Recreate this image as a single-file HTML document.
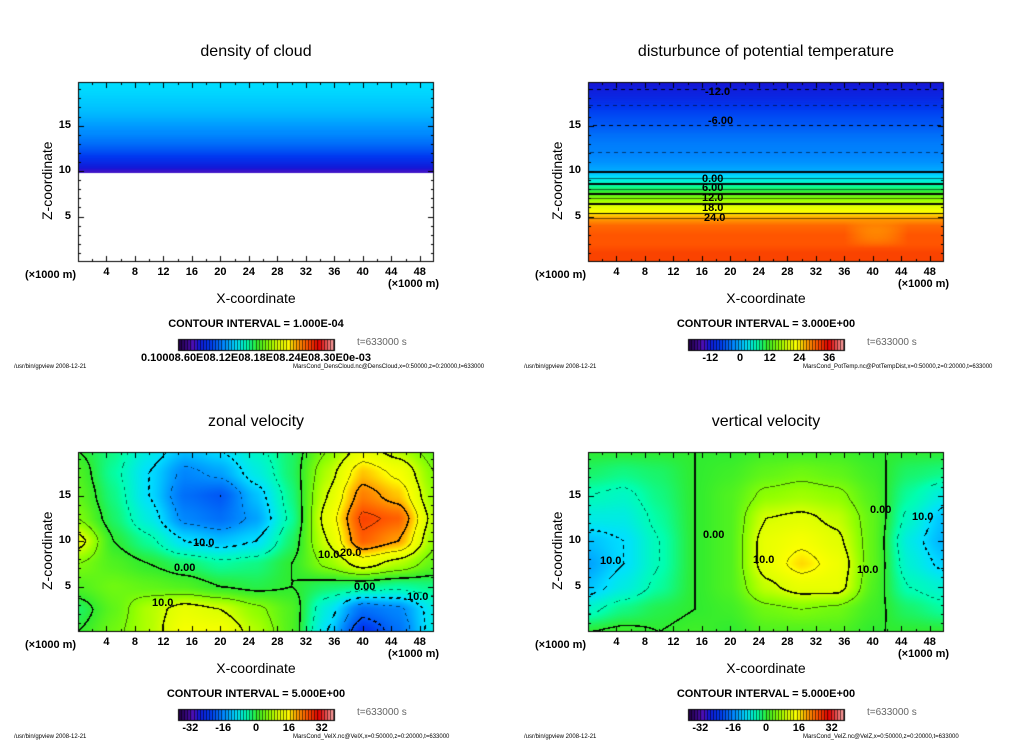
<!DOCTYPE html>
<html><head><meta charset="utf-8">
<style>
body{margin:0;background:#fff;width:1024px;height:740px;overflow:hidden;position:relative;font-family:"Liberation Sans",sans-serif}
canvas{position:absolute;left:0;top:0}
.t{position:absolute;white-space:nowrap;color:#000;line-height:1}
.title{font-size:16px;transform:translateX(-50%)}
.tick{font-size:11px;font-weight:bold;transform:translateX(-50%)}
.ytick{font-size:11px;font-weight:bold;text-align:right;width:24px}
.unit{font-size:11px;font-weight:bold}
.xl{font-size:14px;transform:translateX(-50%)}
.yl{font-size:14px;transform:rotate(-90deg);transform-origin:left top}
.ci{font-size:11px;font-weight:bold;transform:translateX(-50%)}
.tm{font-size:10px;color:#666}
.foot{font-size:6px}
.cl{font-size:11px;font-weight:bold}
</style></head><body>
<canvas id="cv" width="1024" height="740"></canvas>
<div id="txt"></div>
<script>
// ---------- data ----------
// grids: rows z = 20,17.5,...,0 ; cols x = 0,5,...,50 (km)
const gridX=[0,5,10,15,20,25,30,35,40,45,50];
const gridZ=[20,17.5,15,12.5,10,7.5,5,2.5,0];
const zonalVel=[
[0,-3,-8,-12,-10,-6,-2,5,12,8,3],
[2,-4,-10,-16,-14,-8,-2,8,18,14,5],
[3,-3,-10,-18,-20,-12,-3,10,22,18,6],
[5,-2,-8,-16,-18,-14,-4,12,26,24,8],
[12,0,-4,-10,-12,-10,-2,10,24,20,6],
[5,2,0,-2,-4,-3,0,6,12,8,3],
[2,4,3,2,0,-1,0,-2,-3,-4,-3],
[-2,3,8,12,10,6,2,-8,-18,-16,-8],
[0,4,8,14,14,8,2,-10,-24,-18,-8]];
const vertVel=[
[0,0,0,0,0,1,1,1,0,0,0],
[-2,-3,-2,0,1,3,4,3,1,-2,-3],
[-5,-6,-3,0,2,6,7,6,2,-4,-8],
[-8,-8,-4,0,2,10,11,9,3,-6,-12],
[-12,-10,-5,0,2,12,14,11,3,-8,-13],
[-14,-10,-5,0,2,12,17,13,3,-7,-11],
[-12,-8,-4,0,2,9,12,12,2,-5,-7],
[-6,-3,-1,0,1,4,5,4,1,-2,-4],
[0,1,0,1,0,2,2,2,0,0,0]];
// z profiles, z = 0..20 step 1
const profZ=[0,1,2,3,4,5,6,7,8,9,10,11,12,13,14,15,16,17,18,19,20];
const potTemp=[32,32,31,31,30,26,20,15,9,4,-0.5,-2,-3,-3.5,-4.5,-6,-7,-8.5,-10.5,-12,-13.5];
const densCloud=[null,null,null,null,null,null,null,null,null,null,0.11,0.17,0.22,0.26,0.29,0.31,0.33,0.345,0.355,0.365,0.37];
const xTicks=[4,8,12,16,20,24,28,32,36,40,44,48];
const yTicks=[5,10,15];
const velBarLabels=[-32,-16,0,16,32];
const tempBarLabels=[-12,0,12,24,36];

// ---------- colormap ----------
const stops=[[0,[32,0,64]],[0.1,[80,16,192]],[0.13,[20,24,215]],[0.2,[0,56,240]],[0.3,[0,144,255]],[0.37,[0,224,255]],[0.44,[0,255,176]],[0.5,[48,236,48]],[0.58,[144,255,0]],[0.64,[224,255,0]],[0.7,[255,255,0]],[0.76,[255,160,0]],[0.83,[255,80,0]],[0.9,[224,0,0]],[1,[255,176,176]]];
function cmap(t){t=Math.max(0,Math.min(1,t));for(let i=1;i<stops.length;i++){if(t<=stops[i][0]){const a=stops[i-1],b=stops[i];const f=(t-a[0])/(b[0]-a[0]);return a[1].map((c,k)=>Math.round(c+(b[1][k]-c)*f));}}return stops[stops.length-1][1];}

const cv=document.getElementById('cv');const ctx=cv.getContext('2d');
ctx.fillStyle='#fff';ctx.fillRect(0,0,1024,740);
const PW=356,PH=180;const X0=0,X1=50,Z0=0,Z1=19.8;

function gridVal(g,x,z){
  const gx=x/5, gz=(20-z)/2.5;
  const i=Math.max(0,Math.min(9,Math.floor(gx))),j=Math.max(0,Math.min(7,Math.floor(gz)));
  const fx=gx-i,fz=gz-j;
  const sx=fx*fx*(3-2*fx), sz=fz*fz*(3-2*fz);
  const a=g[j][i],b=g[j][i+1],c=g[j+1][i],d=g[j+1][i+1];
  const l1=a*(1-fx)*(1-fz)+b*fx*(1-fz)+c*(1-fx)*fz+d*fx*fz;
  const l2=a*(1-sx)*(1-sz)+b*sx*(1-sz)+c*(1-sx)*sz+d*sx*sz;
  return 0.5*(l1+l2);
}
function profVal(p,z){const k=Math.max(0,Math.min(19,Math.floor(z)));const f=z-k;const a=p[k],b=p[k+1];if(a===null||b===null){if(a===null&&b!==null&&f>0.75)return b;if(b===null&&a!==null)return a;return a===null?null:a;}return a+(b-a)*f;}

function drawPanel(px,py,fn,lo,hi,interval,contourMin,contourMax){
  const img=ctx.createImageData(PW,PH);const vals=new Float32Array(PW*PH);
  for(let y=0;y<PH;y++)for(let x=0;x<PW;x++){
    const xv=X0+(x+0.5)/PW*(X1-X0), zv=Z1-(y+0.5)/PH*(Z1-Z0);
    const v=fn(xv,zv);vals[y*PW+x]=v===null?NaN:v;
  }
  for(let y=0;y<PH;y++)for(let x=0;x<PW;x++){
    const v=vals[y*PW+x];const o=(y*PW+x)*4;
    if(isNaN(v)){img.data[o]=255;img.data[o+1]=255;img.data[o+2]=255;img.data[o+3]=255;continue;}
    let c=cmap((v-lo)/(hi-lo));
    if(interval){
      const vr=vals[y*PW+Math.min(PW-1,x+1)],vd=vals[Math.min(PH-1,y+1)*PW+x];
      const g=Math.hypot(vr-v,vd-v)+1e-6;
      const k=Math.round(v/interval)*interval;
      if(k>=contourMin&&k<=contourMax){
        const d=Math.abs(v-k)/g;
        const bold=(Math.abs(k)%(interval*2)<1e-6);
        const w=bold?0.75:0.45;
        let dash=true;if(k<0)dash=(Math.floor((x+y)/4)%2)===0;
        if(d<w&&dash){const a=bold?0.95:0.55;c=c.map(q=>Math.round(q*(1-a)));}
      }
    }
    img.data[o]=c[0];img.data[o+1]=c[1];img.data[o+2]=c[2];img.data[o+3]=255;
  }
  ctx.putImageData(img,px,py);
  ctx.strokeStyle='#000';ctx.lineWidth=1;ctx.strokeRect(px+0.5,py+0.5,PW-1,PH-1);
  ctx.beginPath();
  for(let k=2;k<50;k+=2){const xx=px+Math.round(k/50*PW)+0.5;const L=(k%4===0)?6:3;ctx.moveTo(xx,py+PH);ctx.lineTo(xx,py+PH-L);ctx.moveTo(xx,py);ctx.lineTo(xx,py+L);}
  for(let k=1;k<20;k++){const yy=py+PH-Math.round(k/Z1*PH)+0.5;const L=(k%5===0)?6:3;ctx.moveTo(px,yy);ctx.lineTo(px+L,yy);ctx.moveTo(px+PW,yy);ctx.lineTo(px+PW-L,yy);}
  ctx.stroke();
}
const panels=[
 {x:78,y:82,fn:(x,z)=>profVal(densCloud,z),lo:0,hi:1,iv:0},
 {x:588,y:82,fn:(x,z)=>{let v=profVal(potTemp,z);if(x>36&&x<45&&z<4.6&&z>1.5)v-=2.5*Math.sin((x-36)/9*Math.PI)*Math.sin((z-1.5)/3.1*Math.PI);return v;},lo:-21,hi:42,iv:3,cmin:-12,cmax:27},
 {x:78,y:452,fn:(x,z)=>gridVal(zonalVel,x,z),lo:-38,hi:38,iv:5,cmin:-40,cmax:40},
 {x:588,y:452,fn:(x,z)=>gridVal(vertVel,x,z),lo:-38,hi:38,iv:5,cmin:-40,cmax:40}
];
panels.forEach(p=>drawPanel(p.x,p.y,p.fn,p.lo,p.hi,p.iv,p.cmin,p.cmax));

function colorbar(x,y){
  const w=156,h=11;
  for(let i=0;i<w;i++){const c=cmap(i/w);ctx.fillStyle=`rgb(${c})`;ctx.fillRect(x+i,y,1,h);}
  ctx.strokeStyle='rgba(0,0,0,0.6)';ctx.beginPath();
  for(let i=0;i<w;i+=3.1){ctx.moveTo(Math.round(x+i)+0.5,y);ctx.lineTo(Math.round(x+i)+0.5,y+h);}ctx.stroke();
  ctx.strokeStyle='#000';ctx.strokeRect(x+0.5,y+0.5,w,h);
}
[[178,339],[688,339],[178,709],[688,709]].forEach(c=>colorbar(c[0],c[1]));

const T=document.getElementById('txt');
function add(cls,txt,l,t,name){const d=document.createElement('div');d.className='t '+cls;d.textContent=txt;d.style.left=l+'px';d.style.top=t+'px';


T.appendChild(d);return d;}
const info=[
 {title:'density of cloud',ci:'CONTOUR INTERVAL = 1.000E-04',file:'MarsCond_DensCloud.nc@DensCloud,x=0:50000,z=0:20000,t=633000',bar:null},
 {title:'disturbunce of potential temperature',ci:'CONTOUR INTERVAL = 3.000E+00',file:'MarsCond_PotTemp.nc@PotTempDist,x=0:50000,z=0:20000,t=633000',bar:[tempBarLabels,-21,42]},
 {title:'zonal velocity',ci:'CONTOUR INTERVAL = 5.000E+00',file:'MarsCond_VelX.nc@VelX,x=0:50000,z=0:20000,t=633000',bar:[velBarLabels,-38,38]},
 {title:'vertical velocity',ci:'CONTOUR INTERVAL = 5.000E+00',file:'MarsCond_VelZ.nc@VelZ,x=0:50000,z=0:20000,t=633000',bar:[velBarLabels,-38,38]}
];
panels.forEach((p,i)=>{
  const I=info[i];const ox=p.x-78,oy=p.y-82;
  add('title',I.title,256+ox,44+oy,'panel-title');
  xTicks.forEach(k=>add('tick',String(k),p.x+k/50*PW,267+oy,'x-tick-label'));
  yTicks.forEach(k=>add('ytick',String(k),p.x-31,p.y+PH-k/Z1*PH-6,'y-tick-label'));
  add('unit','(\u00d71000 m)',25+ox,270+oy,'x-unit-label');
  add('unit','(\u00d71000 m)',388+ox,279+oy,'x-unit-label-right');
  add('xl','X-coordinate',256+ox,291+oy,'x-axis-title');
  add('yl','Z-coordinate',40+ox,220+oy,'y-axis-title');
  add('ci',I.ci,256+ox,319+oy,'contour-interval');
  add('tm','t=633000 s',357+ox,338+oy,'time-label');
  add('foot','/usr/bin/gpview   2008-12-21',14+ox,364+oy,'footer-program');
  add('foot',I.file,293+ox,364+oy,'footer-file');
  if(I.bar){I.bar[0].forEach(v=>add('tick',String(v),178+ox+(v-I.bar[1])/(I.bar[2]-I.bar[1])*156,353+oy,'colorbar-label'));}
  else add('tick','0.10008.60E08.12E08.18E08.24E08.30E0e-03',256,353,'colorbar-label');
});
[['-12.0',705,87],['-6.00',708,116],['0.00',702,174],['6.00',702,183],['12.0',702,193],['18.0',702,203],['24.0',704,213],
 ['10.0',193,538],['0.00',174,563],['20.0',340,548],['10.0',318,550],['0.00',354,582],['10.0',407,592],['10.0',152,598],
 ['10.0',600,556],['0.00',703,530],['10.0',753,555],['10.0',857,565],['0.00',870,505],['10.0',912,512]
].forEach(c=>add('cl',c[0],c[1],c[2],'contour-label'));
</script>
</body></html>
